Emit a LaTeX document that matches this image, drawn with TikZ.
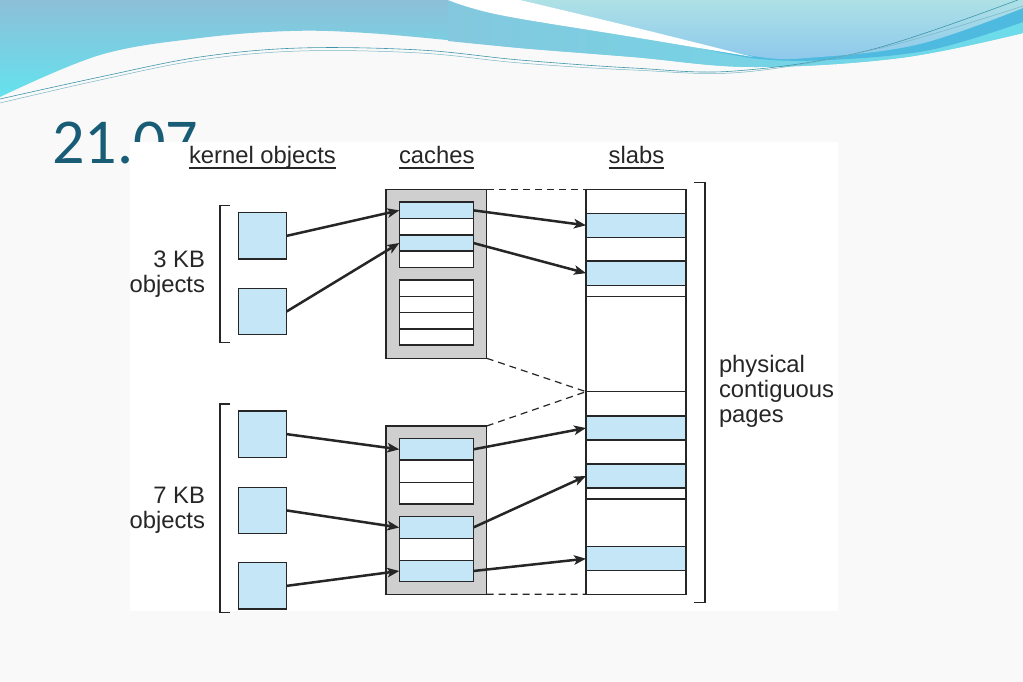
\documentclass[tikz,border=0pt]{standalone}
\usepackage{fontspec}
\setmainfont{Liberation Sans}
\newfontfamily\titlefont{Carlito}
\usetikzlibrary{arrows.meta}
\definecolor{cellblue}{RGB}{196,230,246}
\definecolor{cachegray}{RGB}{207,207,207}
\definecolor{ink}{RGB}{38,38,38}
\definecolor{titleteal}{RGB}{24,92,118}
\definecolor{slidebg}{RGB}{249,249,249}
\definecolor{bandtop}{RGB}{141,191,216}
\definecolor{bandbot}{RGB}{100,226,238}
\definecolor{cyanl}{RGB}{131,200,222}
\definecolor{cyanr}{RGB}{108,220,234}
\definecolor{lighttop}{RGB}{174,225,230}
\definecolor{lightbot}{RGB}{140,200,236}
\definecolor{darkband}{RGB}{78,186,224}
\definecolor{thinline}{RGB}{62,150,170}
\begin{document}
\begin{tikzpicture}[x=1pt,y=-1pt,
  box/.style={draw=ink, line width=1.4pt, inner sep=0pt, outer sep=0pt, anchor=north west},
  objbox/.style={box, fill=cellblue, minimum width=48.4pt, minimum height=46.3pt},
  cachebox/.style={box, fill=cachegray, minimum width=100.7pt},
  cell/.style={box, minimum width=74pt},
  bluecell/.style={cell, fill=cellblue},
  whitecell/.style={cell, fill=white},
  slabcell/.style={box, minimum width=100pt},
  blueslab/.style={slabcell, fill=cellblue},
  whiteslab/.style={slabcell, fill=white},
  lbl/.style={inner sep=0pt, outer sep=0pt, text=ink, font=\fontsize{23.8}{25}\selectfont},
  uline/.style={draw=ink, line width=1.3pt},
  bracket/.style={draw=ink, line width=1.3pt},
  arrowline/.style={draw=ink, line width=2.5pt, -{Stealth[length=12pt,width=9.5pt,inset=3pt]}},
  dashline/.style={draw=ink, line width=1.2pt, dash pattern=on 7pt off 5pt}
]
\useasboundingbox (0,0) rectangle (1023,682);
\fill[slidebg] (0,0) rectangle (1023,682);

% ---- banner ----
\shade[top color=bandtop, bottom color=bandbot]
  (1023,0) -- (0,0) -- plot[smooth, tension=0.6] coordinates
  {(0,97) (100,55) (200,38) (290,31) (367,33) (467,42) (520,48) (633,57) (753,67) (900,58) (1023,33)} -- cycle;
\shade[left color=cyanl, right color=cyanr]
  plot[smooth, tension=0.6] coordinates {(448,0) (500,15) (633,37) (753,57) (900,50) (1023,20)}
  -- (1023,33) -- plot[smooth, tension=0.6] coordinates {(1023,33) (900,58) (753,67) (633,57) (520,48) (448,41)} -- cycle;
\fill[darkband]
  plot[smooth, tension=0.6] coordinates {(700,48) (760,59) (830,60) (930,50) (1023,22)}
  -- (1023,0) -- (700,0) -- cycle;
\shade[top color=lighttop, bottom color=lightbot]
  (520,0) -- plot[smooth, tension=0.6] coordinates {(520,0) (633,27) (753,56) (820,57) (920,44) (1023,8)}
  -- (1023,0) -- cycle;
\fill[white]
  plot[smooth, tension=0.6] coordinates {(448,0) (500,15) (633,37) (753,57)}
  -- plot[smooth, tension=0.6] coordinates {(753,57) (633,27) (520,0)} -- cycle;
\draw[thinline, line width=0.6pt] plot[smooth, tension=0.6] coordinates
  {(0,99) (100,77) (200,57) (300,48) (420,50) (520,60) (633,68) (735,71) (870,50) (1023,-2)};
\draw[thinline!70!white, line width=0.5pt] plot[smooth, tension=0.6] coordinates
  {(0,103) (100,80) (200,60) (300,51) (420,53) (520,63) (633,70) (745,72) (885,47) (1023,6)};

% ---- title ----
\node[anchor=base west, inner sep=0pt, text=titleteal, font=\titlefont\fontsize{64}{64}\selectfont] (title) at (52,163.3) {21.07};

% ---- figure background ----
\fill[white] (130,142) rectangle (838,611);

% ---- headers ----
\node[lbl, anchor=base west] (hk) at (189,164) {kernel objects};
\node[lbl, anchor=base west] (hc) at (399,164) {caches};
\node[lbl, anchor=base west] (hs) at (608.6,164) {slabs};
\draw[uline] ([yshift=-4pt]hk.base west) -- ([yshift=-4pt]hk.base east);
\draw[uline] ([yshift=-4pt]hc.base west) -- ([yshift=-4pt]hc.base east);
\draw[uline] ([yshift=-4pt]hs.base west) -- ([yshift=-4pt]hs.base east);

% ---- side labels (base = last line) ----
\node[lbl, anchor=base east, align=right] (l3) at (205,292.7) {3 KB\\objects};
\node[lbl, anchor=base east, align=right] (l7) at (205,528.3) {7 KB\\objects};
\node[lbl, anchor=base west, align=left] (lp) at (719,422.7) {physical\\contiguous\\pages};

% ---- brackets ----
\draw[bracket] (230,205.7) -- (220,205.7) -- (220,342.3) -- (230,342.3);
\draw[bracket] (230,404) -- (220,404) -- (220,612.7) -- (230,612.7);
\draw[bracket] (694,182.3) -- (705,182.3) -- (705,602.7) -- (694,602.7);

% ---- kernel objects ----
\node[objbox] (o1) at (238.3,212.7) {};
\node[objbox] (o2) at (238.3,288.3) {};
\node[objbox] (o3) at (238.3,411) {};
\node[objbox] (o4) at (238.3,487.3) {};
\node[objbox] (o5) at (238.3,562.7) {};

% ---- caches ----
\node[cachebox, minimum height=169pt] (c1) at (386,189.3) {};
\node[cachebox, minimum height=168.3pt] (c2) at (386,426) {};
\node[bluecell, minimum height=16.7pt] (a1) at (399.3,202) {};
\node[whitecell, minimum height=16.3pt] (a2) at (399.3,218.7) {};
\node[bluecell, minimum height=16pt] (a3) at (399.3,235) {};
\node[whitecell, minimum height=16.3pt] (a4) at (399.3,251) {};
\node[whitecell, minimum height=16.3pt] (b1) at (399.3,280) {};
\node[whitecell, minimum height=16.4pt] (b2) at (399.3,296.3) {};
\node[whitecell, minimum height=16.3pt] (b3) at (399.3,312.7) {};
\node[whitecell, minimum height=16pt] (b4) at (399.3,329) {};
\node[bluecell, minimum height=21.3pt] (d1) at (399.3,438.7) {};
\node[whitecell, minimum height=22.3pt] (d2) at (399.3,460) {};
\node[whitecell, minimum height=21.7pt] (d3) at (399.3,482.3) {};
\node[bluecell, minimum height=21.6pt] (e1) at (399.3,516.7) {};
\node[whitecell, minimum height=22pt] (e2) at (399.3,538.3) {};
\node[bluecell, minimum height=21.4pt] (e3) at (399.3,560.3) {};

% ---- slabs ----
\node[whiteslab, minimum height=24pt] (s1) at (586,189.3) {};
\node[blueslab, minimum height=24pt] (s2) at (586,213.3) {};
\node[whiteslab, minimum height=23.7pt] (s3) at (586,237.3) {};
\node[blueslab, minimum height=24.3pt] (s4) at (586,261) {};
\node[whiteslab, minimum height=11.4pt] (s5) at (586,285.3) {};
\node[whiteslab, minimum height=95pt] (s6) at (586,296.7) {};
\node[whiteslab, minimum height=24.3pt] (s7) at (586,391.7) {};
\node[blueslab, minimum height=24pt] (s8) at (586,416) {};
\node[whiteslab, minimum height=24pt] (s9) at (586,440) {};
\node[blueslab, minimum height=24pt] (s10) at (586,464) {};
\node[whiteslab, minimum height=11pt] (s11) at (586,488) {};
\node[whiteslab, minimum height=47.7pt] (s12) at (586,499) {};
\node[blueslab, minimum height=24pt] (s13) at (586,546.7) {};
\node[whiteslab, minimum height=23.6pt] (s14) at (586,570.7) {};

% ---- dashed outlines ----
\draw[dashline] (c1.north east) -- (s1.north west);
\draw[dashline] (c1.south east) -- (s7.north west);
\draw[dashline] (c2.north east) -- (s7.north west);
\draw[dashline] (c2.south east) -- (s14.south west);

% ---- arrows: objects to caches ----
\draw[arrowline] (o1.east) -- (a1.west);
\draw[arrowline] (o2.east) -- (a3.west);
\draw[arrowline] (o3.east) -- (d1.west);
\draw[arrowline] (o4.east) -- (e1.west);
\draw[arrowline] (o5.east) -- (e3.west);

% ---- arrows: caches to slabs ----
\draw[arrowline] (a1.east) -- (s2.west);
\draw[arrowline] (a3.east) -- (s4.west);
\draw[arrowline] (d1.east) -- (s8.west);
\draw[arrowline] (e1.east) -- (s10.west);
\draw[arrowline] (e3.east) -- (s13.west);
\end{tikzpicture}
\end{document}
